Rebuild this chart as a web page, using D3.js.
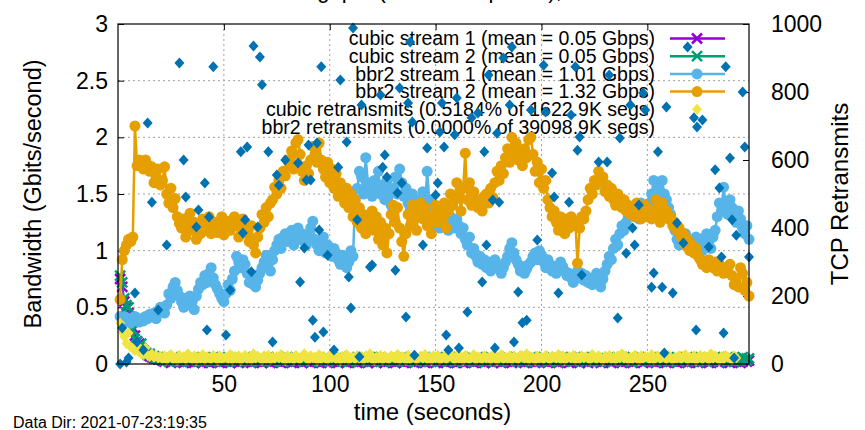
<!DOCTYPE html>
<html>
<head>
<meta charset="utf-8">
<script src="https://cdn.jsdelivr.net/npm/d3@7/dist/d3.min.js"></script>
<style>
  body { margin: 0; background: #fff; }
  text { font-family: "Liberation Sans", Arial, sans-serif; fill: #000; }
  svg { display: block; }
</style>
</head>
<body>
<div id="chart"></div>
<script>
// ---- data (one value per second) ----
const seconds = d3.range(1, 299);

const bbr2Stream1 = [
  0.42,0.40,0.42,0.38,0.40,0.36,0.38,0.42,0.40,0.37, 0.40,0.38,0.42,0.40,0.44,0.42,0.45,0.40,0.46,0.50,
  0.48,0.45,0.52,0.62,0.58,0.68,0.72,0.65,0.60,0.55, 0.50,0.58,0.52,0.60,0.55,0.48,0.60,0.66,0.72,0.70,
  0.78,0.72,0.80,0.85,0.76,0.70,0.66,0.62,0.58,0.55, 0.62,0.70,0.65,0.75,0.82,0.95,0.90,0.85,0.92,0.88,
  0.80,0.72,0.76,0.70,0.68,0.74,0.80,0.85,0.90,0.96, 0.88,0.82,0.92,1.00,1.05,1.10,1.02,1.12,1.15,1.08,
  1.10,1.18,1.05,1.12,1.20,1.10,1.15,1.08,1.05,1.12, 1.20,1.26,1.10,1.05,1.00,1.08,1.12,0.98,1.05,1.00,
  0.95,1.02,0.98,0.92,0.88,0.96,0.92,0.85,0.90,1.00, 0.95,1.45,1.55,1.70,1.65,1.50,1.82,1.60,1.55,1.48,
  1.62,1.55,1.70,1.50,1.58,1.45,1.62,1.52,1.40,1.55, 1.65,1.50,1.72,1.60,1.48,1.55,1.42,1.38,1.50,1.35,
  1.45,1.30,1.40,1.52,1.38,1.70,1.45,1.30,1.22,1.30, 1.25,1.20,1.28,1.32,1.22,1.18,1.30,1.25,1.20,1.28,
  1.22,1.15,1.20,1.10,1.05,1.12,0.98,1.02,0.95,0.90, 0.95,0.88,0.92,0.85,0.90,0.82,0.86,0.92,0.88,0.84,
  0.80,0.85,0.90,0.95,1.02,1.07,0.98,0.92,0.88,0.82, 0.86,0.80,0.84,0.88,0.90,0.95,0.98,0.92,1.00,0.96,
  0.90,0.85,0.92,0.88,0.82,0.86,0.80,0.84,0.90,0.86, 0.82,0.78,0.80,0.76,0.72,0.78,0.82,0.76,0.80,0.74,
  0.78,0.72,0.75,0.70,0.74,0.80,0.72,0.68,0.75,0.82, 0.88,0.95,0.92,1.02,1.10,1.05,1.15,1.22,1.18,1.25,
  1.30,1.38,1.32,1.40,1.35,1.28,1.42,1.38,1.30,1.35, 1.42,1.50,1.62,1.45,1.55,1.40,1.62,1.50,1.45,1.38,
  1.32,1.25,1.18,1.10,1.05,1.12,1.08,1.15,1.10,1.05, 1.00,1.08,1.12,1.05,1.10,1.00,1.05,1.15,1.08,1.02,
  1.12,1.18,1.30,1.42,1.35,1.56,1.40,1.32,1.45,1.38, 1.30,1.25,1.35,1.28,1.20,1.15,1.22,1.10
];

const bbr2Stream2 = [
  0.57,0.92,1.00,1.05,1.10,1.08,1.12,2.10,1.75,1.80, 1.78,1.72,1.80,1.76,1.70,1.74,1.60,1.65,1.72,1.58,
  1.62,1.74,1.50,1.42,1.55,1.38,1.46,1.30,1.24,1.20, 1.28,1.12,1.22,1.33,1.18,1.25,1.10,1.20,1.15,1.28,
  1.22,1.18,1.30,1.15,1.22,1.25,1.16,1.20,1.30,1.14, 1.20,1.26,1.18,1.24,1.30,1.22,1.12,1.20,1.28,1.25,
  1.15,1.08,1.22,1.05,0.98,1.12,1.20,1.32,1.25,1.38, 1.30,1.42,1.45,1.56,1.50,1.62,1.55,1.70,1.66,1.80,
  1.75,1.88,1.72,1.95,1.98,1.85,1.70,1.62,1.75,1.68, 1.80,1.92,1.85,1.78,1.95,1.80,1.72,1.65,1.78,1.60,
  1.72,1.55,1.68,1.48,1.60,1.50,1.42,1.55,1.38,1.50, 1.30,1.45,1.25,1.38,1.20,1.32,1.15,1.28,1.22,1.35,
  1.18,1.30,1.10,1.25,1.05,1.20,0.98,1.15,1.32,1.40, 1.25,1.38,1.20,1.08,0.95,1.15,1.32,1.22,1.40,1.30,
  1.18,1.35,1.42,1.28,1.38,1.22,1.30,1.15,1.32,1.40, 1.25,1.38,1.30,1.42,1.20,1.35,1.50,1.40,1.45,1.60,
  1.50,1.35,1.55,1.86,1.45,1.60,1.40,1.52,1.45,1.38, 1.42,1.35,1.48,1.50,1.42,1.55,1.47,1.60,1.70,1.62,
  1.75,1.68,1.82,1.90,1.78,2.00,1.85,1.95,1.80,1.88, 1.75,1.90,1.82,1.98,2.00,1.85,1.70,1.78,1.60,1.72,
  1.55,1.62,1.45,1.38,1.30,1.35,1.25,1.18,1.30,1.22, 1.15,1.28,1.20,1.30,1.22,1.25,0.89,1.20,1.30,1.28,
  1.35,1.45,1.55,1.50,1.62,1.58,1.70,1.60,1.65,1.52, 1.58,1.48,1.55,1.45,1.40,1.50,1.42,1.38,1.45,1.35,
  1.40,1.32,1.38,1.30,1.42,1.35,1.28,1.33,1.40,1.30, 1.36,1.28,1.32,1.45,1.38,1.25,1.42,1.30,1.35,1.28,
  1.30,1.22,1.25,1.18,1.20,1.12,1.15,1.05,1.10,1.00, 1.05,0.98,1.02,0.95,0.92,0.88,0.90,0.85,0.92,0.88,
  0.85,0.90,0.82,0.88,0.86,0.80,0.84,0.82,0.88,0.78, 0.70,0.75,0.68,0.85,0.80,0.65,0.72,0.60
];

const cubicStream1 = [
  0.75,0.68,0.55,0.50,0.45,0.40,0.32,0.25,0.20,0.18, 0.14,0.12,0.10,0.09,0.07,0.06,0.05,0.05,0.04,0.04,
  0.03,0.02,0.04,0.03,0.01,0.02,0.03,0.04,0.02,0.03, 0.01,0.02,0.03,0.02,0.04,0.01,0.02,0.03,0.02,0.01,
  0.03,0.02,0.01,0.04,0.02,0.03,0.02,0.01,0.03,0.02, 0.04,0.02,0.01,0.03,0.02,0.03,0.01,0.02,0.04,0.02,
  0.02,0.03,0.01,0.02,0.03,0.02,0.04,0.01,0.02,0.03, 0.02,0.01,0.03,0.02,0.04,0.02,0.01,0.03,0.02,0.02,
  0.03,0.01,0.02,0.04,0.02,0.03,0.01,0.02,0.03,0.02, 0.01,0.03,0.02,0.02,0.04,0.01,0.03,0.02,0.01,0.02,
  0.03,0.02,0.04,0.01,0.02,0.03,0.02,0.01,0.03,0.02, 0.02,0.04,0.01,0.03,0.02,0.02,0.03,0.01,0.02,0.04,
  0.02,0.01,0.03,0.02,0.03,0.01,0.02,0.04,0.02,0.03, 0.01,0.02,0.03,0.02,0.01,0.04,0.02,0.03,0.02,0.01,
  0.03,0.02,0.02,0.04,0.01,0.03,0.02,0.02,0.03,0.01, 0.02,0.03,0.04,0.02,0.01,0.03,0.02,0.02,0.04,0.01,
  0.02,0.03,0.01,0.02,0.04,0.02,0.03,0.01,0.02,0.03, 0.02,0.04,0.01,0.02,0.03,0.02,0.01,0.03,0.02,0.04,
  0.01,0.02,0.03,0.02,0.04,0.01,0.02,0.03,0.02,0.02, 0.03,0.01,0.04,0.02,0.02,0.03,0.01,0.02,0.03,0.02,
  0.04,0.02,0.01,0.03,0.02,0.03,0.02,0.01,0.04,0.02, 0.02,0.03,0.01,0.02,0.03,0.04,0.02,0.01,0.03,0.02,
  0.02,0.01,0.03,0.04,0.02,0.02,0.03,0.01,0.02,0.03, 0.04,0.02,0.01,0.02,0.03,0.02,0.04,0.01,0.03,0.02,
  0.02,0.03,0.01,0.02,0.04,0.03,0.02,0.01,0.02,0.03, 0.02,0.04,0.02,0.01,0.03,0.02,0.02,0.03,0.01,0.04,
  0.02,0.03,0.02,0.01,0.03,0.02,0.04,0.02,0.01,0.03, 0.02,0.02,0.03,0.01,0.04,0.02,0.03,0.02,0.01,0.02,
  0.03,0.04,0.02,0.01,0.02,0.03,0.02,0.04,0.01,0.03, 0.02,0.02,0.03,0.01,0.02,0.04,0.02,0.03
];

const cubicStream2 = [
  0.78,0.72,0.58,0.52,0.50,0.38,0.30,0.22,0.20,0.15, 0.18,0.12,0.10,0.08,0.09,0.06,0.07,0.05,0.06,0.04,
  0.04,0.03,0.05,0.02,0.04,0.06,0.03,0.04,0.02,0.05, 0.03,0.04,0.05,0.02,0.03,0.06,0.04,0.03,0.05,0.02,
  0.03,0.05,0.04,0.02,0.06,0.03,0.04,0.05,0.03,0.02, 0.04,0.06,0.03,0.05,0.04,0.02,0.03,0.05,0.04,0.03,
  0.05,0.02,0.04,0.06,0.03,0.04,0.02,0.05,0.03,0.04, 0.06,0.03,0.02,0.05,0.04,0.03,0.05,0.02,0.04,0.06,
  0.03,0.05,0.04,0.02,0.03,0.06,0.04,0.03,0.05,0.04, 0.02,0.04,0.06,0.03,0.05,0.02,0.04,0.03,0.06,0.04,
  0.05,0.03,0.02,0.04,0.06,0.03,0.05,0.04,0.02,0.03, 0.05,0.04,0.06,0.02,0.03,0.05,0.04,0.03,0.06,0.02,
  0.04,0.05,0.03,0.06,0.02,0.04,0.03,0.05,0.04,0.02, 0.06,0.03,0.05,0.04,0.03,0.02,0.05,0.06,0.03,0.04,
  0.02,0.05,0.04,0.03,0.06,0.04,0.02,0.05,0.03,0.04, 0.06,0.02,0.03,0.05,0.04,0.03,0.06,0.04,0.02,0.05,
  0.03,0.04,0.06,0.02,0.05,0.03,0.04,0.05,0.02,0.06, 0.04,0.03,0.05,0.02,0.04,0.06,0.03,0.05,0.04,0.02,
  0.05,0.03,0.04,0.06,0.02,0.04,0.05,0.03,0.06,0.04, 0.02,0.05,0.03,0.04,0.06,0.03,0.02,0.05,0.04,0.03,
  0.06,0.04,0.02,0.05,0.03,0.04,0.06,0.02,0.05,0.03, 0.04,0.03,0.05,0.06,0.02,0.04,0.03,0.05,0.04,0.06,
  0.02,0.05,0.03,0.04,0.06,0.03,0.05,0.02,0.04,0.05, 0.03,0.06,0.04,0.02,0.05,0.03,0.04,0.06,0.03,0.05,
  0.04,0.02,0.06,0.03,0.05,0.04,0.02,0.05,0.03,0.06, 0.04,0.03,0.05,0.02,0.04,0.06,0.03,0.04,0.05,0.02,
  0.05,0.03,0.04,0.06,0.02,0.05,0.04,0.03,0.06,0.04, 0.02,0.05,0.03,0.04,0.06,0.03,0.05,0.02,0.04,0.05,
  0.03,0.06,0.04,0.02,0.05,0.03,0.04,0.06,0.03,0.05, 0.02,0.04,0.05,0.03,0.06,0.04,0.03,0.05
];

// retransmits, right axis
const cubicRetrans = [
  120,95,80,60,91,50,45,40,55,35, 30,28,47,25,22,30,20,25,18,22,
  15,24,12,20,28,14,18,10,26,16, 22,12,30,18,14,24,10,20,16,28, 12,22,18,14,26,20,10,24,16,18,
  20,14,28,12,22,16,24,10,18,26, 14,20,12,30,16,22,18,10,24,14, 26,12,20,16,22,18,28,14,10,24,
  16,20,12,26,18,14,22,30,16,12, 24,18,20,10,28,14,22,16,12,26, 18,24,14,20,10,22,16,28,12,18,
  20,14,26,16,22,12,24,18,30,14, 10,20,16,26,12,22,18,14,24,20, 16,28,12,22,18,10,26,14,20,24,
  12,18,22,16,28,14,20,10,24,18, 26,12,16,22,14,20,30,18,12,24, 16,22,10,26,18,14,20,28,12,22,
  18,14,24,16,20,12,26,22,10,18, 28,14,20,16,24,12,22,18,14,26, 20,16,30,12,22,18,10,24,16,20,
  14,26,18,12,22,20,16,28,14,24, 10,18,22,16,26,12,20,14,24,18, 22,16,12,28,20,14,24,18,10,22,
  16,26,14,20,12,24,18,30,16,22, 12,20,14,26,18,10,24,16,22,20, 14,28,12,18,24,16,20,22,14,26,
  18,12,20,16,24,14,22,28,12,20, 16,24,10,18,26,14,22,20,12,30, 16,24,18,10,22,14,26,20,16,12,
  24,18
];

// bbr2 retransmits: [second, count]
const bbr2Retrans = [
  [1,0],[2,106],[4,6],[5,18],[8,209],[9,65],[12,41],[14,709],[16,476],[19,159],[23,350],
  [29,885],[31,600],[32,491],[37,403],[38,453],[41,532],[42,100],[43,432],[45,874],[51,85],[53,218],
  [58,624],[59,385],[60,424],[61,638],[63,271],[64,935],[66,403],[67,903],[68,821],[71,624],[73,65],
  [75,556],[76,526],[79,600],[85,591],[86,241],[88,341],[89,541],[90,644],[91,541],[92,129],[93,79],
  [94,650],[95,394],[96,874],[97,94],[99,320],[102,41],[104,579],[105,835],[108,653],[109,256],
  [110,165],[111,988],[113,424],[114,21],[115,762],[119,285],[120,291],[124,791],[125,579],[126,615],
  [127,550],[131,276],[132,503],[133,812],[134,532],[136,138],[137,768],[138,947],[139,712],[140,26],
  [144,350],[146,635],[150,497],[151,532],[152,682],[153,768],[154,638],[155,85],[156,41],[159,674],
  [160,782],[161,47],[165,153],[167,724],[170,738],[172,241],[173,624],[174,350],[175,850],[177,482],
  [178,47],[179,679],[180,476],[182,900],[185,762],[186,932],[187,65],[189,212],[191,121],[193,129],
  [195,747],[198,365],[201,879],[202,741],[205,562],[206,491],[208,209],[213,476],[214,732],[216,874],
  [217,629],[218,668],[219,262],[227,594],[231,594],[232,850],[236,135],[237,665],[240,326],[242,762],
  [243,400],[244,350],[246,468],[248,797],[249,747],[252,226],[253,268],[255,624],[257,226],[258,32],
  [259,756],[262,209],[264,415],[267,356],[269,932],[272,724],[273,100],[276,718],[279,344],[282,571],
  [284,518],[285,315],[286,91],[287,874],[289,606],[290,424],[291,18],[292,379],[295,800],[296,638],
  [298,315]
];

const legendLabels = [
  "cubic stream 1 (mean = 0.05 Gbps)",
  "cubic stream 2 (mean = 0.05 Gbps)",
  "bbr2 stream 1 (mean = 1.01 Gbps)",
  "bbr2 stream 2 (mean = 1.32 Gbps)",
  "cubic retransmits (0.5184% of 1622.9K segs)",
  "bbr2 retransmits (0.0000% of 39098.9K segs)"
];
const colors = ["#9400d3", "#009e73", "#56b4e9", "#e69f00", "#f0e442", "#0072b2"];

const xTicks = [50, 100, 150, 200, 250];
const yTicks = [0, 0.5, 1, 1.5, 2, 2.5, 3];
const y2Ticks = [0, 200, 400, 600, 800, 1000];

// ---- layout ----
var W = 865, H = 430;
var margin = {top: 24, right: 116, bottom: 66, left: 118};
var width = W - margin.left - margin.right;
var height = H - margin.top - margin.bottom;

var svg = d3.select("#chart").append("svg")
    .attr("width", W)
    .attr("height", H);

var x = d3.scaleLinear().domain([0, 298]).range([0, width]);
var y = d3.scaleLinear().domain([0, 3]).range([height, 0]);
var y2 = d3.scaleLinear().domain([0, 1000]).range([height, 0]);

// title (almost entirely cut off at the top of the image)
svg.append("text")
    .attr("x", 435).attr("y", -2)
    .attr("text-anchor", "middle")
    .style("font-size", "22px")
    .text("Throughput (2 streams per cc), RTT");

var g = svg.append("g").attr("transform", `translate(${margin.left},${margin.top})`);

// grid
g.append("g").selectAll("line")
    .data(xTicks).enter().append("line")
    .attr("x1", d => x(d)).attr("x2", d => x(d))
    .attr("y1", 0).attr("y2", height)
    .attr("stroke", "#a0a0a0").attr("stroke-dasharray", "2,3");
g.append("g").selectAll("line")
    .data(yTicks.filter(d => d > 0 && d < 3)).enter().append("line")
    .attr("x1", 0).attr("x2", width)
    .attr("y1", d => y(d)).attr("y2", d => y(d))
    .attr("stroke", "#a0a0a0").attr("stroke-dasharray", "2,3");

// axes
function styleAxis(sel, size) {
    sel.select(".domain").remove();
    sel.selectAll("line").attr("stroke", "#000");
    sel.selectAll("text").style("font-size", size);
}
g.append("g")
    .call(d3.axisLeft(y).tickValues(yTicks).tickFormat(d3.format("")).tickSize(-6).tickPadding(10))
    .call(styleAxis, "23px");
g.append("g")
    .attr("transform", `translate(0,${height})`)
    .call(d3.axisBottom(x).tickValues(xTicks).tickSize(-6).tickPadding(12))
    .call(styleAxis, "23px");
g.append("g")
    .call(d3.axisTop(x).tickValues(xTicks).tickSize(-6).tickFormat(""))
    .call(styleAxis, "23px");
g.append("g")
    .attr("transform", `translate(${width},0)`)
    .call(d3.axisRight(y2).tickValues(y2Ticks).tickFormat(d3.format("d")).tickSize(-6).tickPadding(22))
    .call(styleAxis, "23px");

// axis labels
svg.append("text")
    .attr("transform", `translate(33,${margin.top + height / 2}) rotate(-90)`)
    .attr("text-anchor", "middle").attr("dy", "0.35em")
    .style("font-size", "23.5px")
    .text("Bandwidth (Gbits/second)");
svg.append("text")
    .attr("transform", `translate(840,${margin.top + height / 2}) rotate(-90)`)
    .attr("text-anchor", "middle").attr("dy", "0.35em")
    .style("font-size", "24px")
    .text("TCP Retransmits");
svg.append("text")
    .attr("x", margin.left + width / 2 - 1).attr("y", 420)
    .attr("text-anchor", "middle")
    .style("font-size", "24px")
    .text("time (seconds)");
svg.append("text")
    .attr("x", 13).attr("y", 428)
    .style("font-size", "16px")
    .text("Data Dir: 2021-07-23:19:35");

// markers
var diamond = "M0,-5.5L5,0L0,5.5L-5,0Z";
var cross = "M-5,-5L5,5M-5,5L5,-5";

// legend
var legend = g.append("g");
legendLabels.forEach(function(label, i) {
    var ly = 14.5 + i * 17.7;
    legend.append("text")
        .attr("x", 537).attr("y", ly).attr("dy", "0.35em")
        .attr("text-anchor", "end")
        .style("font-size", "19.5px")
        .text(label);
    if (i < 4) {
        legend.append("line")
            .attr("x1", 552).attr("x2", 607)
            .attr("y1", ly).attr("y2", ly)
            .attr("stroke", colors[i]).attr("stroke-width", 2.5);
    }
    var m = legend.append("g").attr("transform", `translate(579,${ly})`);
    if (i < 2) m.append("path").attr("d", cross).attr("stroke", colors[i]).attr("stroke-width", 2.5).attr("fill", "none");
    else if (i < 4) m.append("circle").attr("r", 5.5).attr("fill", colors[i]);
    else m.append("path").attr("d", diamond).attr("fill", colors[i]);
});

// series
var plot = g.append("g");
var line = d3.line().x((d, i) => x(seconds[i])).y(d => y(d));

[cubicStream1, cubicStream2].forEach(function(series, k) {
    plot.append("path").datum(series)
        .attr("d", line).attr("fill", "none")
        .attr("stroke", colors[k]).attr("stroke-width", 1.5);
    plot.append("g").selectAll("path")
        .data(series).enter().append("path")
        .attr("transform", (d, i) => `translate(${x(seconds[i])},${y(d)})`)
        .attr("d", cross).attr("fill", "none")
        .attr("stroke", colors[k]).attr("stroke-width", 2.5);
});

[bbr2Stream1, bbr2Stream2].forEach(function(series, k) {
    plot.append("path").datum(series)
        .attr("d", line).attr("fill", "none")
        .attr("stroke", colors[k + 2]).attr("stroke-width", 2.5);
    plot.append("g").selectAll("circle")
        .data(series).enter().append("circle")
        .attr("cx", (d, i) => x(seconds[i])).attr("cy", d => y(d))
        .attr("r", 5.5).attr("fill", colors[k + 2]);
});

plot.append("g").selectAll("path")
    .data(cubicRetrans).enter().append("path")
    .attr("transform", (d, i) => `translate(${x(seconds[i])},${y2(d)})`)
    .attr("d", diamond).attr("fill", colors[4]);

plot.append("g").selectAll("path")
    .data(bbr2Retrans).enter().append("path")
    .attr("transform", d => `translate(${x(d[0])},${y2(d[1])})`)
    .attr("d", diamond).attr("fill", colors[5]);

// border
g.append("rect")
    .attr("width", width).attr("height", height)
    .attr("fill", "none").attr("stroke", "#000").attr("stroke-width", 1.2);
</script>
</body>
</html>
